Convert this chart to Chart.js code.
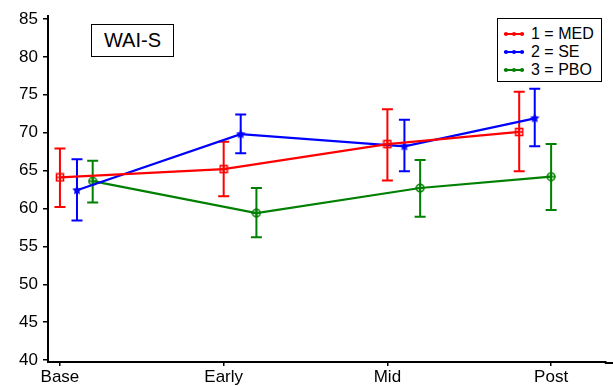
<!DOCTYPE html>
<html>
<head>
<meta charset="utf-8">
<script src="https://cdn.jsdelivr.net/npm/chart.js@4"></script>
<style>
  html, body { margin: 0; background: #fff; overflow: hidden; }
  #wrap { position: relative; width: 613px; height: 386px; }
  #waiChart { display: block; }
  #title {
    position: absolute; left: 91px; top: 24px; width: 81px; height: 31px;
    border: 1px solid #000; font: 20px "Liberation Sans", Arial, sans-serif;
    text-align: center; line-height: 31px; color: #000; background: #fff;
  }
  #legend {
    position: absolute; left: 497px; top: 18px; width: 103px; height: 62px;
    border: 1px solid #000; background: #fff;
    font: 16px "Liberation Sans", Arial, sans-serif; color: #000;
  }
  .legend-item { position: absolute; left: 5px; height: 18px; line-height: 18px; }
  .legend-item canvas { position: absolute; left: 0; top: 3px; }
  .legend-item span { position: absolute; left: 28px; white-space: nowrap; }
</style>
</head>
<body>
<div id="wrap">
  <canvas id="waiChart" width="613" height="386"></canvas>
  <div id="title">WAI-S</div>
  <div id="legend"></div>
</div>
<script>
// categories (time points) and groups
const categories = ["Base", "Early", "Mid", "Post"];
const groupLabels = ["1 = MED", "2 = SE", "3 = PBO"];
const yTicks = [40, 45, 50, 55, 60, 65, 70, 75, 80, 85];

// x position of each point, in category units (groups are jittered)
const medX = [0, 1, 2, 2.805];
const seX = [0.104, 1.104, 2.104, 2.9];
const pboX = [0.2, 1.2, 2.2, 3.0];

// means and error bar limits
const medMean = [64.1, 65.2, 68.5, 70.1];
const medLow = [60.2, 61.6, 63.7, 64.9];
const medHigh = [67.9, 68.8, 73.1, 75.4];

const seMean = [62.4, 69.8, 68.2, 71.9];
const seLow = [58.4, 67.3, 64.9, 68.2];
const seHigh = [66.5, 72.4, 71.7, 75.8];

const pboMean = [63.6, 59.4, 62.7, 64.2];
const pboLow = [60.8, 56.2, 58.9, 59.8];
const pboHigh = [66.3, 62.7, 66.4, 68.5];

const colors = ["#ff0000", "#0000ff", "#008000"];
const shapes = ["square", "star", "circle"];

// small marker images
function makeMarker(shape, color, size) {
  const c = document.createElement("canvas");
  c.width = size;
  c.height = size;
  const g = c.getContext("2d");
  const m = size / 2;
  g.strokeStyle = color;
  g.fillStyle = color;
  g.lineWidth = 1.6;
  if (shape === "square") {
    g.strokeRect(1.5, 1.5, size - 3, size - 3);
    g.beginPath();
    g.moveTo(m, 1); g.lineTo(m, size - 1);
    g.moveTo(1, m); g.lineTo(size - 1, m);
    g.stroke();
  } else if (shape === "circle") {
    g.beginPath();
    g.arc(m, m, m - 1.2, 0, Math.PI * 2);
    g.stroke();
    g.beginPath();
    g.moveTo(m, 0.5); g.lineTo(m, size - 0.5);
    g.moveTo(0.5, m); g.lineTo(size - 0.5, m);
    g.stroke();
  } else {
    g.beginPath();
    for (let i = 0; i < 10; i++) {
      const r = i % 2 === 0 ? m : m * 0.5;
      const a = -Math.PI / 2 + (i * Math.PI) / 5;
      const px = m + r * Math.cos(a);
      const py = m + r * Math.sin(a);
      if (i === 0) g.moveTo(px, py); else g.lineTo(px, py);
    }
    g.closePath();
    g.fill();
  }
  return c;
}

function points(xs, ys) {
  return xs.map((x, i) => ({ x: x, y: ys[i] }));
}

const seriesX = [medX, seX, pboX];
const seriesMean = [medMean, seMean, pboMean];
const seriesLow = [medLow, seLow, pboLow];
const seriesHigh = [medHigh, seHigh, pboHigh];

const datasets = groupLabels.map((label, k) => ({
  label: label,
  data: points(seriesX[k], seriesMean[k]),
  low: seriesLow[k],
  high: seriesHigh[k],
  borderColor: colors[k],
  backgroundColor: colors[k],
  borderWidth: 2.2,
  tension: 0,
  pointStyle: makeMarker(shapes[k], colors[k], 10),
  pointRadius: 5,
}));

// error bars drawn through the chart's scales
const errorBars = {
  id: "errorBars",
  beforeDatasetsDraw(chart) {
    const ctx = chart.ctx;
    const xs = chart.scales.x;
    const ys = chart.scales.y;
    ctx.save();
    ctx.lineWidth = 2;
    chart.data.datasets.forEach((ds) => {
      ctx.strokeStyle = ds.borderColor;
      ds.data.forEach((p, i) => {
        const px = xs.getPixelForValue(p.x);
        const top = ys.getPixelForValue(ds.high[i]);
        const bot = ys.getPixelForValue(ds.low[i]);
        ctx.beginPath();
        ctx.moveTo(px, top); ctx.lineTo(px, bot);
        ctx.moveTo(px - 5.5, top); ctx.lineTo(px + 5.5, top);
        ctx.moveTo(px - 5.5, bot); ctx.lineTo(px + 5.5, bot);
        ctx.stroke();
      });
    });
    ctx.restore();
  },
};

// the bottom axis line runs on to the right edge of the canvas
const axisRunOut = {
  id: "axisRunOut",
  afterDraw(chart) {
    const ctx = chart.ctx;
    const y = chart.chartArea.bottom + 1;
    ctx.save();
    ctx.strokeStyle = "#000";
    ctx.lineWidth = 2;
    ctx.beginPath();
    ctx.moveTo(chart.chartArea.right - 1, y);
    ctx.lineTo(chart.width, y);
    ctx.stroke();
    ctx.restore();
  },
};

const tickFont = { family: "'Liberation Sans', Arial, sans-serif", size: 17 };

new Chart(document.getElementById("waiChart"), {
  type: "line",
  data: { datasets: datasets },
  plugins: [errorBars, axisRunOut],
  options: {
    responsive: false,
    animation: false,
    layout: { padding: { top: 16, right: 0, left: 0, bottom: 0 } },
    plugins: { legend: { display: false }, tooltip: { enabled: false } },
    scales: {
      x: {
        type: "linear",
        min: -0.073,
        max: 3.334,
        afterBuildTicks: (scale) => {
          scale.ticks = categories.map((c, i) => ({ value: i }));
        },
        afterFit: (scale) => {
          scale.height = 24;
          scale.paddingLeft = 0;
          scale.paddingRight = 0;
        },
        ticks: {
          color: "#000",
          font: tickFont,
          padding: 1,
          maxRotation: 0,
          autoSkip: false,
          callback: (v) => categories[v],
        },
        grid: { drawOnChartArea: false, tickLength: 4, color: "#000", lineWidth: 1.5 },
        border: { color: "#000", width: 2 },
      },
      y: {
        min: 39.74,
        max: 85.4,
        afterBuildTicks: (scale) => {
          scale.ticks = yTicks.map((v) => ({ value: v }));
        },
        afterFit: (scale) => {
          scale.width = 48;
          scale.paddingTop = 0;
          scale.paddingBottom = 0;
        },
        ticks: { color: "#000", font: tickFont, padding: 5 },
        grid: { drawOnChartArea: false, tickLength: 5, color: "#000", lineWidth: 1.5 },
        border: { color: "#000", width: 2 },
      },
    },
  },
});

// legend
const legendEl = document.getElementById("legend");
legendEl.innerHTML = groupLabels
  .map((label, k) => `
    <div class="legend-item" style="top:${6 + k * 18}px">
      <canvas id="leg${k}" width="22" height="12"></canvas>
      <span>${label}</span>
    </div>`)
  .join("");
groupLabels.forEach((label, k) => {
  const g = document.getElementById("leg" + k).getContext("2d");
  g.strokeStyle = colors[k];
  g.fillStyle = colors[k];
  g.lineWidth = 2;
  g.beginPath();
  g.moveTo(1, 6); g.lineTo(21, 6);
  g.stroke();
  [3, 11, 19].forEach((x) => {
    g.beginPath();
    g.arc(x, 6, 2, 0, Math.PI * 2);
    g.fill();
  });
});
</script>
</body>
</html>
